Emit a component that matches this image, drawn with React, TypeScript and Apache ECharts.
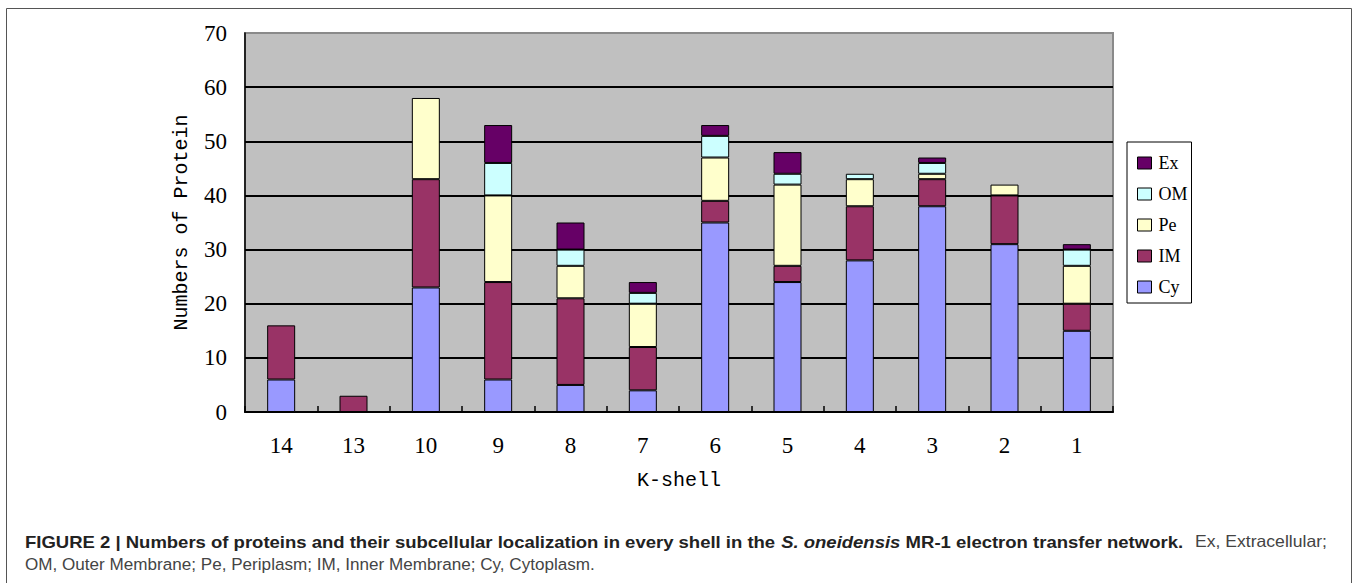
import React, { useEffect, useRef } from "react";
import * as echarts from "echarts";

const categories = ["14", "13", "10", "9", "8", "7", "6", "5", "4", "3", "2", "1"];
const cy = [6, 0, 23, 6, 5, 4, 35, 24, 28, 38, 31, 15];
const im = [10, 3, 20, 18, 16, 8, 4, 3, 10, 5, 9, 5];
const pe = [0, 0, 15, 16, 6, 8, 8, 15, 5, 1, 2, 7];
const om = [0, 0, 0, 6, 3, 2, 4, 2, 1, 2, 0, 3];
const ex = [0, 0, 0, 7, 5, 2, 2, 4, 0, 1, 0, 1];
const legendOrder = ["Ex", "OM", "Pe", "IM", "Cy"];

const captionBold1 = "FIGURE 2 | Numbers of proteins and their subcellular localization in every shell in the ";
const captionItalic = "S. oneidensis";
const captionBold2 = " MR-1 electron transfer network.";
const captionNormal1 = "Ex, Extracellular;";
const captionLine2 = "OM, Outer Membrane; Pe, Periplasm; IM, Inner Membrane; Cy, Cytoplasm.";

const serif = "'Liberation Serif', 'DejaVu Serif', serif";
const mono = "'Liberation Mono', 'DejaVu Sans Mono', monospace";
const sans = "'Liberation Sans', Arial, sans-serif";

function measure(text: string, font: string): number {
  const c = document.createElement("canvas").getContext("2d")!;
  c.font = font;
  return c.measureText(text).width;
}

export default function App() {
  const ref = useRef<HTMLDivElement>(null);
  useEffect(() => {
    document.body.style.margin = "0";
    const chart = echarts.init(ref.current!, null, { renderer: "svg" });
    const fs = 16.5;
    const wBold =
      measure(captionBold1 + captionBold2, `bold ${fs}px ${sans}`) +
      measure(captionItalic, `italic bold ${fs}px ${sans}`);
    const wNorm1 = measure(captionNormal1, `${fs}px ${sans}`);
    const wLine2 = measure(captionLine2, `${fs}px ${sans}`);

    const mk = (name: string, data: number[], color: string) => ({
      name,
      type: "bar",
      stack: "total",
      data: data.map((v) => (v === 0 ? null : v)),
      barWidth: 28,
      itemStyle: { color, borderColor: "#000", borderWidth: 1 },
    });
    chart.setOption({
      animation: false,
      grid: {
        left: 245,
        top: 33,
        right: 245,
        bottom: 171,
        show: true,
        backgroundColor: "#C0C0C0",
        borderColor: "#8a8a8a",
        borderWidth: 2,
      },
      legend: {
        data: legendOrder,
        orient: "vertical",
        left: 1127,
        top: 142,
        padding: [12, 4, 7, 10],
        itemGap: 13,
        itemWidth: 14,
        itemHeight: 12,
        borderColor: "#000",
        borderWidth: 1,
        icon: "rect",
        itemStyle: { borderColor: "#000", borderWidth: 1 },
        textStyle: {
          fontFamily: serif,
          fontSize: 18,
          color: "#000",
          padding: [0, 0, 0, 2],
          width: 20,
          overflow: "none",
        },
      },
      xAxis: {
        type: "category",
        data: categories,
        name: "K-shell",
        nameLocation: "middle",
        nameGap: 58,
        nameTextStyle: { fontFamily: mono, fontSize: 20, color: "#000" },
        axisLine: { lineStyle: { color: "#000", width: 2 } },
        axisTick: { show: true, inside: true, length: 6, lineStyle: { color: "#000", width: 1.5 } },
        axisLabel: { fontFamily: serif, fontSize: 23, color: "#000", margin: 22 },
      },
      yAxis: {
        type: "value",
        min: 0,
        max: 70,
        interval: 10,
        name: "Numbers of Protein",
        nameLocation: "middle",
        nameGap: 54,
        nameRotate: 90,
        nameTextStyle: { fontFamily: mono, fontSize: 20, color: "#000" },
        axisLine: { show: true, lineStyle: { color: "#000", width: 1.5 } },
        axisTick: { show: false },
        axisLabel: { fontFamily: serif, fontSize: 23, color: "#000", margin: 18 },
        splitLine: { show: true, showMaxLine: false, lineStyle: { color: "#000", width: 1.8 } },
      },
      graphic: [
        {
          type: "rect",
          shape: { x: 6.5, y: 8.5, width: 1345, height: 600 },
          style: { fill: "none", stroke: "#555", lineWidth: 1 },
          silent: true,
        },
        {
          type: "text",
          x: 25,
          y: 542,
          scaleX: 1158 / wBold,
          style: {
            text: `{b|${captionBold1}}{bi|${captionItalic}}{b|${captionBold2}}`,
            verticalAlign: "middle",
            rich: {
              b: { fontFamily: sans, fontSize: fs, fontWeight: "bold", fill: "#222" },
              bi: { fontFamily: sans, fontSize: fs, fontWeight: "bold", fontStyle: "italic", fill: "#222" },
            },
          },
        },
        {
          type: "text",
          x: 1195,
          y: 542,
          scaleX: 132 / wNorm1,
          style: {
            text: captionNormal1,
            font: `${fs}px ${sans}`,
            verticalAlign: "middle",
            fill: "#444",
          },
        },
        {
          type: "text",
          x: 25,
          y: 564.5,
          scaleX: 570 / wLine2,
          style: {
            text: captionLine2,
            font: `${fs}px ${sans}`,
            verticalAlign: "middle",
            fill: "#444",
          },
        },
      ],
      series: [
        mk("Cy", cy, "#9999FF"),
        mk("IM", im, "#993366"),
        mk("Pe", pe, "#FFFFCC"),
        mk("OM", om, "#CCFFFF"),
        mk("Ex", ex, "#660066"),
      ],
    });
    return () => chart.dispose();
  }, []);
  return <div ref={ref} style={{ width: 1358, height: 583 }} />;
}
